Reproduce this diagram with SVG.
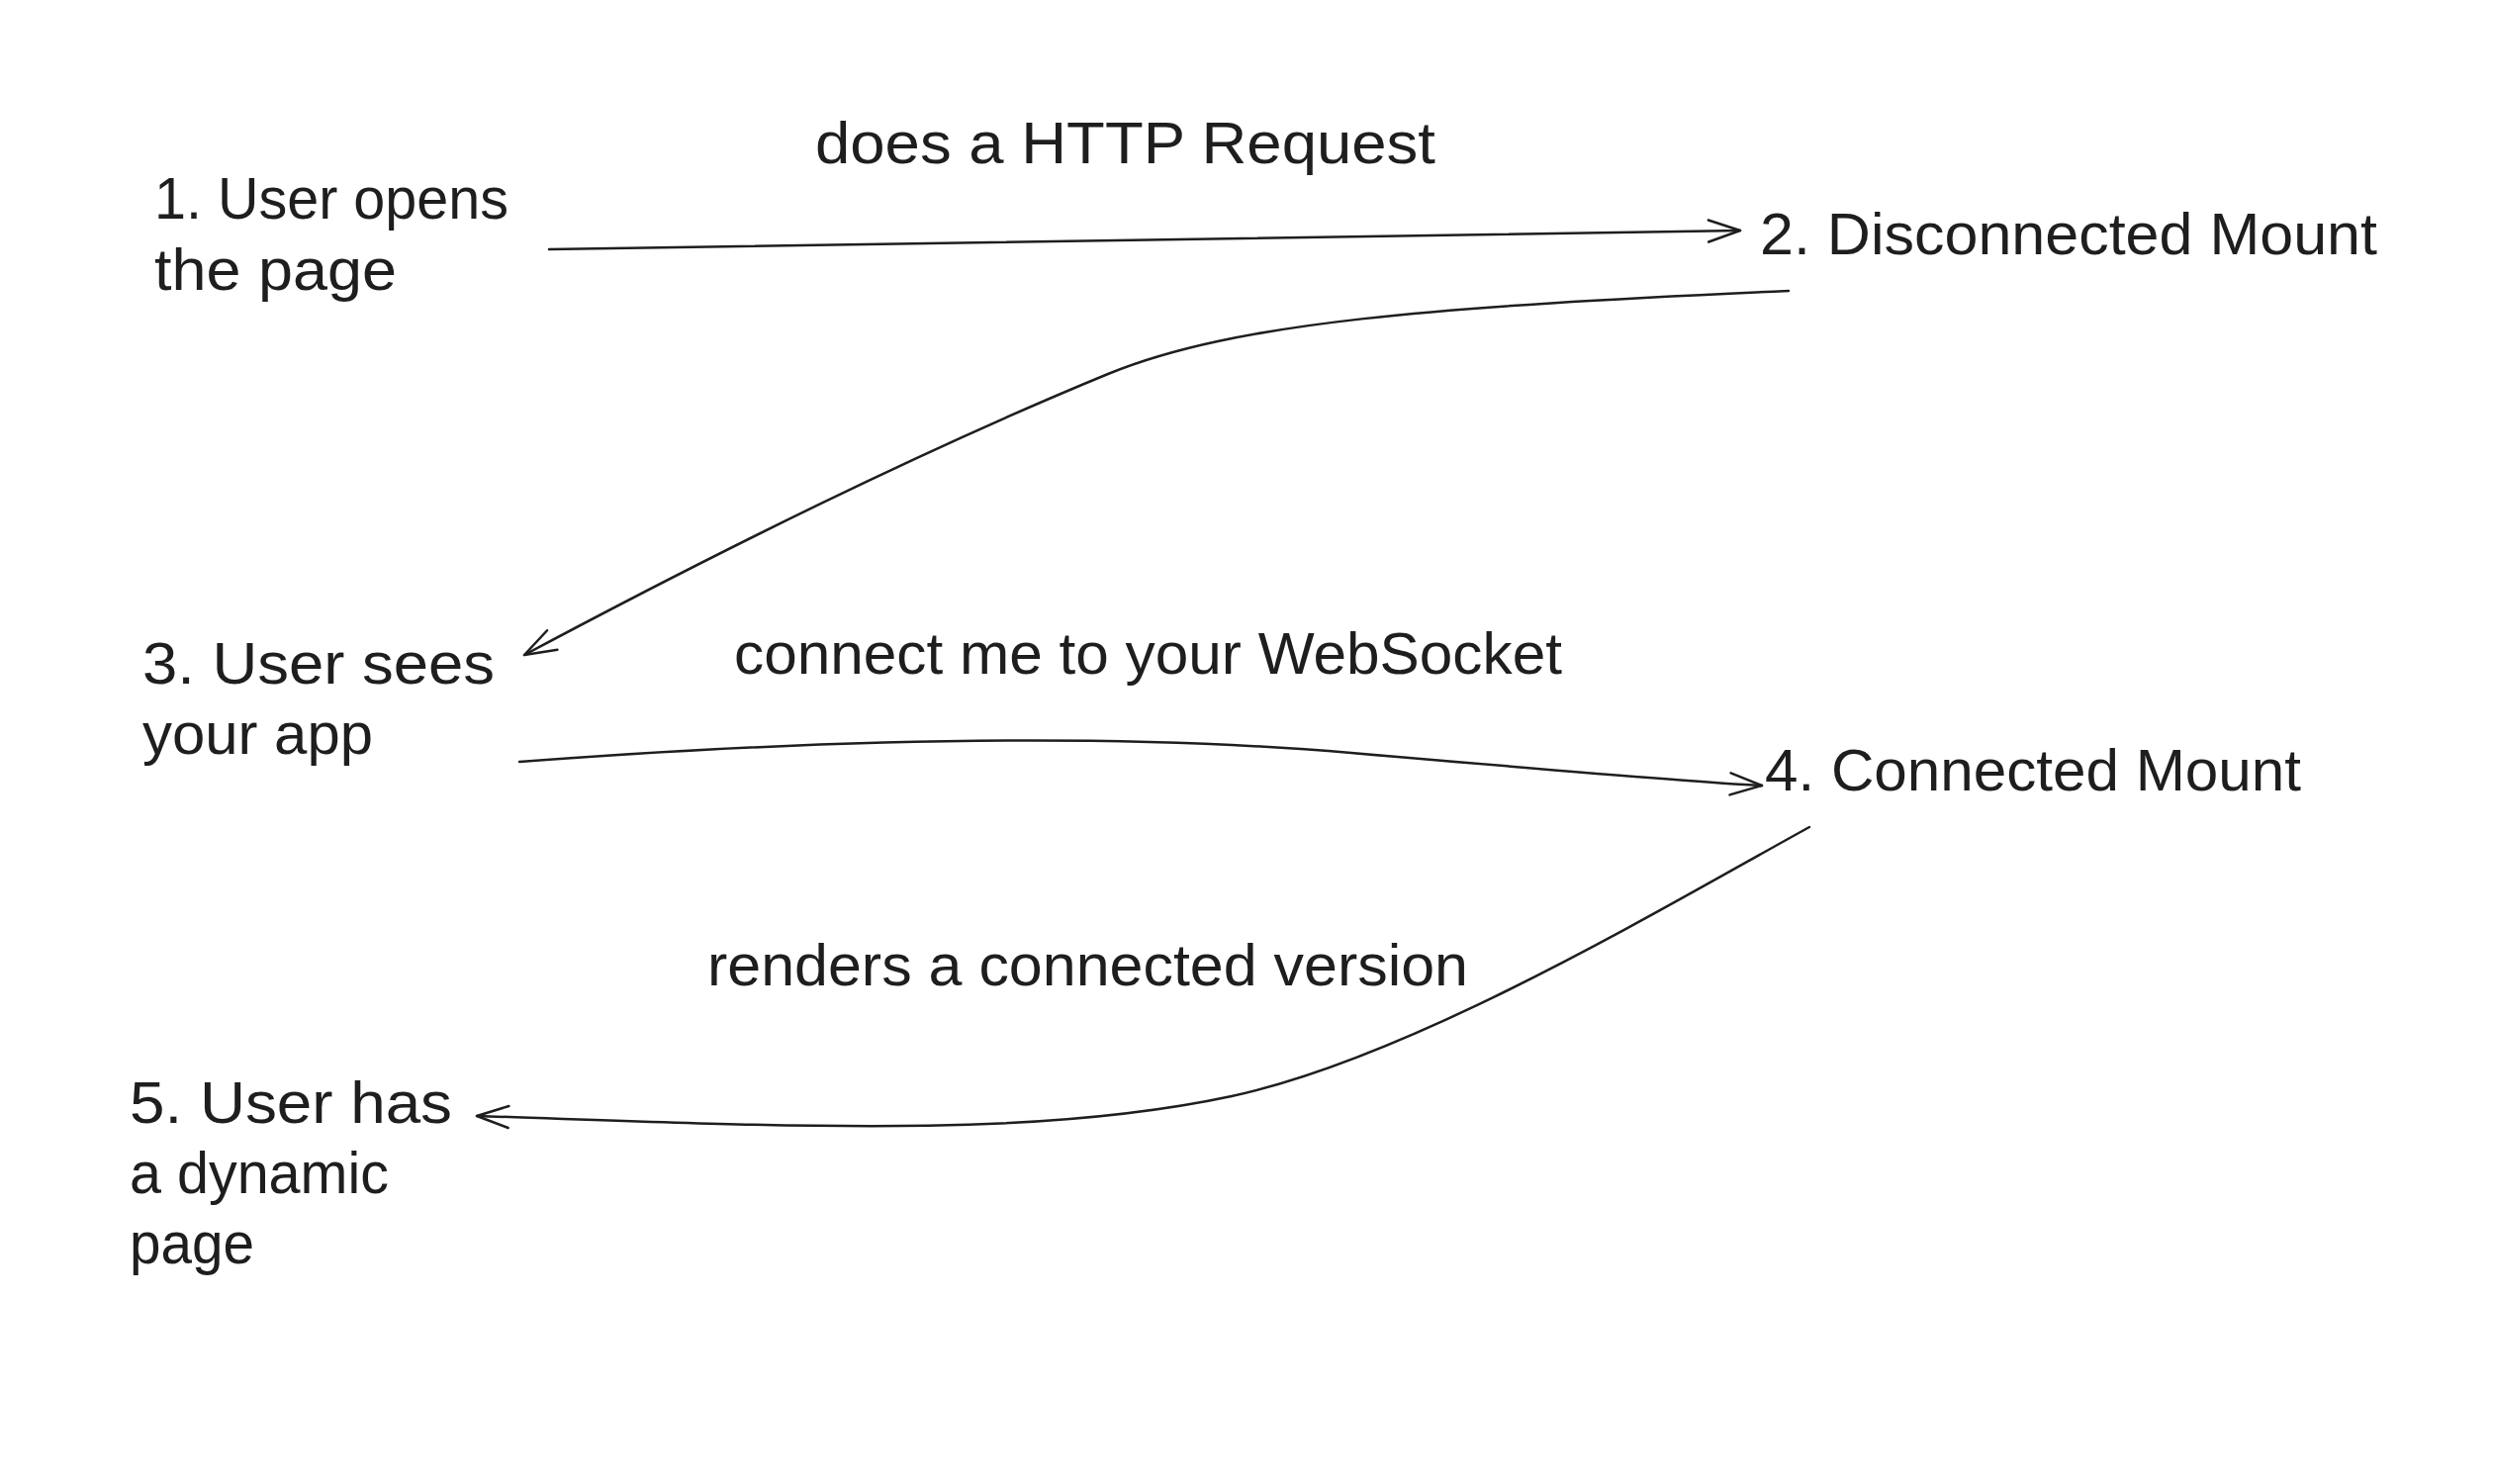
<svg xmlns="http://www.w3.org/2000/svg" width="2520" height="1500" viewBox="0 0 2520 1500">
<style>
text{font-family:"Liberation Sans",Arial,sans-serif;font-size:59px;fill:#1e1e1e}
.c{fill:none;stroke:#1e1e1e;stroke-width:2.5;stroke-linecap:round;stroke-linejoin:round}
</style>
<defs>
<marker id="ah" markerUnits="userSpaceOnUse" markerWidth="60" markerHeight="60" refX="0" refY="0" viewBox="-40 -30 50 60" orient="auto" overflow="visible">
<path d="M-32,-11 L0,0 L-32,11" fill="none" stroke="#1e1e1e" stroke-width="2.5" stroke-linecap="round" stroke-linejoin="round"/>
</marker>
</defs>
<rect width="2520" height="1500" fill="#ffffff"/>
<g id="connectors">
<path class="c" d="M555,252 L1759,233" marker-end="url(#ah)"/>
<path class="c" d="M1808,294 C1450,310 1250,325 1120,378 C950,448 740,550 530,662" marker-end="url(#ah)"/>
<path class="c" d="M525,770 Q1030,732 1366,761 T1781,794" marker-end="url(#ah)"/>
<path class="c" d="M1829,836 C1680,918 1430,1068 1245,1108 C1040,1152 790,1138 482,1128" marker-end="url(#ah)"/>
</g>
<g id="label-http"><text x="824" y="165" textLength="627" lengthAdjust="spacingAndGlyphs">does a HTTP Request</text></g>
<g id="label-ws"><text x="742" y="681" textLength="837" lengthAdjust="spacingAndGlyphs">connect me to your WebSocket</text></g>
<g id="label-render"><text x="715" y="996" textLength="769" lengthAdjust="spacingAndGlyphs">renders a connected version</text></g>
<g id="node1">
<text x="156" y="221" textLength="358" lengthAdjust="spacingAndGlyphs">1. User opens</text>
<text x="156" y="293" textLength="245" lengthAdjust="spacingAndGlyphs">the page</text>
</g>
<g id="node2"><text x="1779" y="257" textLength="624" lengthAdjust="spacingAndGlyphs">2. Disconnected Mount</text></g>
<g id="node3">
<text x="144" y="691" textLength="356" lengthAdjust="spacingAndGlyphs">3. User sees</text>
<text x="144" y="762" textLength="233" lengthAdjust="spacingAndGlyphs">your app</text>
</g>
<g id="node4"><text x="1784" y="799" textLength="542" lengthAdjust="spacingAndGlyphs">4. Connected Mount</text></g>
<g id="node5">
<text x="131" y="1135" textLength="326" lengthAdjust="spacingAndGlyphs">5. User has</text>
<text x="131" y="1206" textLength="262" lengthAdjust="spacingAndGlyphs">a dynamic</text>
<text x="131" y="1277" textLength="126" lengthAdjust="spacingAndGlyphs">page</text>
</g>
</svg>
